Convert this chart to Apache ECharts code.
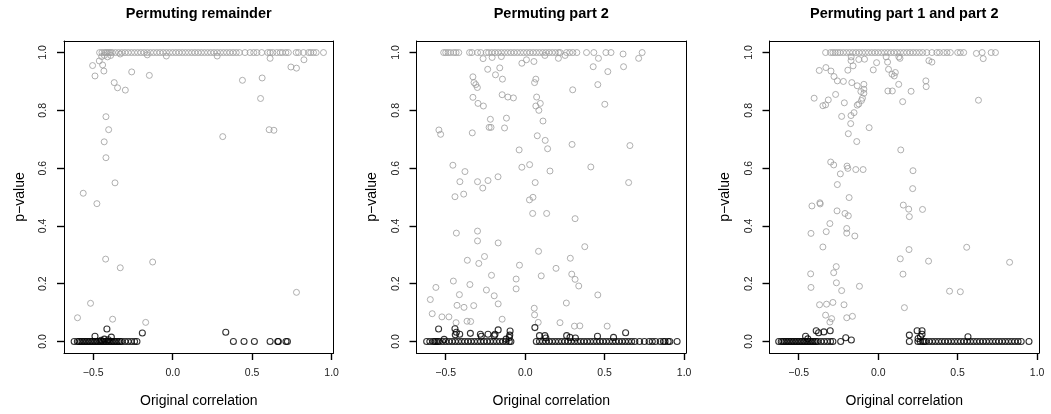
<!DOCTYPE html>
<html>
<head>
<meta charset="utf-8">
<script src="https://cdn.jsdelivr.net/npm/echarts@6/dist/echarts.min.js"></script>
<style>
  html, body { margin: 0; padding: 0; background: #fff; }
  #chart { width: 1051px; height: 414px; }
</style>
</head>
<body>
<div id="chart"></div>
<script>
// panel titles and tick values
var titles = ['Permuting remainder', 'Permuting part 2', 'Permuting part 1 and part 2'];
var xTicks = [-0.5, 0.0, 0.5, 1.0];
var yTicks = [0.0, 0.2, 0.4, 0.6, 0.8, 1.0];

// panel 1: permuting remainder
// grey points sitting on p = 1 (x only)
var p1GreyTop = [-0.46, -0.445, -0.43, -0.42, -0.41, -0.40, -0.39, -0.38, -0.36, -0.34, -0.32, -0.30, -0.28,
    -0.26, -0.24, -0.22, -0.20, -0.18, -0.16, -0.14, -0.12, -0.10, -0.08, -0.06, -0.04, -0.02, 0.00, 0.02,
    0.04, 0.06, 0.08, 0.10, 0.12, 0.14, 0.16, 0.18, 0.20, 0.22, 0.24, 0.26, 0.28, 0.30, 0.32, 0.34, 0.36,
    0.38, 0.40, 0.42, 0.455, 0.487, 0.51, 0.53, 0.56, 0.598, 0.613, 0.63, 0.655, 0.676, 0.691, 0.712, 0.728,
    0.777, 0.792, 0.823, 0.855, 0.869, 0.886, 0.903, 0.949];
var p1Grey = [[-0.462, 0.971], [-0.441, 0.957], [-0.504, 0.955], [-0.489, 0.919], [-0.433, 0.936],
    [-0.447, 0.986], [-0.43, 0.99], [-0.41, 0.985], [-0.39, 0.99], [-0.33, 0.995], [-0.258, 0.933],
    [-0.147, 0.921], [-0.368, 0.896], [-0.347, 0.878], [-0.298, 0.870], [-0.420, 0.778], [-0.403, 0.733],
    [-0.431, 0.691], [-0.420, 0.636], [-0.363, 0.549], [-0.563, 0.513], [-0.477, 0.477], [-0.422, 0.285],
    [-0.330, 0.255], [-0.126, 0.275], [-0.517, 0.132], [-0.599, 0.082], [-0.378, 0.077], [-0.170, 0.066],
    [0.315, 0.709], [0.439, 0.904], [0.563, 0.912], [0.553, 0.841], [0.607, 0.733], [0.637, 0.731],
    [0.613, 0.980], [0.744, 0.950], [0.779, 0.946], [0.826, 0.975], [0.779, 0.170], [-0.16, 0.992],
    [-0.04, 0.988], [0.28, 0.988]];
// black points sitting on p = 0 (x only)
var p1BlackZero = [-0.62, -0.60, -0.59, -0.58, -0.57, -0.56, -0.55, -0.54, -0.53, -0.52, -0.51, -0.50, -0.49,
    -0.48, -0.47, -0.46, -0.45, -0.44, -0.43, -0.42, -0.41, -0.40, -0.39, -0.38, -0.37, -0.36, -0.35, -0.34,
    -0.33, -0.32, -0.30, -0.28, -0.26, -0.24, -0.225, 0.382, 0.449, 0.514, 0.613, 0.661, 0.665, 0.713, 0.722];
var p1Black = [[-0.414, 0.043], [-0.489, 0.018], [-0.386, 0.015], [-0.191, 0.029], [0.334, 0.032],
    [-0.43, 0.008], [-0.405, 0.006], [-0.45, 0.004]];

// panel 2: permuting part 2
var p2GreyTop = [-0.513, -0.50, -0.485, -0.47, -0.45, -0.435, -0.418, -0.35, -0.335, -0.30, -0.28, -0.245,
    -0.23, -0.21, -0.19, -0.17, -0.15, -0.13, -0.11, -0.09, -0.07, -0.05, -0.03, -0.01, 0.01, 0.03, 0.05,
    0.07, 0.09, 0.11, 0.13, 0.15, 0.17, 0.19, 0.21, 0.22, 0.26, 0.28, 0.30, 0.325, 0.386, 0.432, 0.508,
    0.54, 0.736];
var p2Grey = [[-0.265, 0.979], [-0.208, 0.983], [-0.15, 0.986], [-0.021, 0.963], [0.008, 0.975],
    [0.055, 0.969], [0.124, 0.99], [0.209, 0.98], [0.251, 0.99], [0.461, 0.98], [0.619, 0.951],
    [0.428, 0.951], [0.714, 0.98], [0.616, 0.995], [0.520, 0.934], [0.457, 0.889],
    [-0.543, 0.732], [-0.532, 0.717], [-0.333, 0.722], [-0.329, 0.916], [-0.329, 0.845], [-0.322, 0.896],
    [-0.311, 0.889], [-0.301, 0.879], [-0.297, 0.824], [-0.263, 0.815], [-0.236, 0.942], [-0.219, 0.769],
    [-0.227, 0.741], [-0.215, 0.741], [-0.187, 0.923], [-0.160, 0.947], [-0.143, 0.908], [-0.145, 0.854],
    [-0.109, 0.846], [-0.074, 0.843], [-0.118, 0.773], [-0.130, 0.739], [-0.038, 0.663], [-0.021, 0.603],
    [0.028, 0.612], [0.067, 0.908], [0.059, 0.896], [0.072, 0.846], [0.067, 0.815], [0.086, 0.800],
    [0.095, 0.824], [0.112, 0.763], [0.076, 0.712], [0.126, 0.696], [0.141, 0.667], [0.156, 0.590],
    [0.299, 0.871], [0.295, 0.682], [0.501, 0.821], [0.659, 0.678], [0.413, 0.604], [-0.455, 0.610],
    [-0.379, 0.588], [-0.411, 0.553], [-0.30, 0.553], [-0.234, 0.557], [-0.171, 0.570], [0.063, 0.550],
    [0.651, 0.550], [-0.442, 0.501], [-0.387, 0.510], [-0.267, 0.531], [0.027, 0.490], [0.049, 0.499],
    [0.047, 0.443], [0.135, 0.443], [0.314, 0.425], [-0.433, 0.375], [-0.30, 0.382], [-0.30, 0.348],
    [-0.170, 0.341], [0.375, 0.328], [0.084, 0.312], [-0.364, 0.281], [-0.256, 0.294], [-0.292, 0.270],
    [-0.036, 0.264], [0.194, 0.253], [0.284, 0.288], [0.293, 0.233], [0.314, 0.215], [0.337, 0.192],
    [-0.452, 0.209], [-0.348, 0.197], [-0.212, 0.229], [-0.057, 0.216], [-0.057, 0.182], [-0.244, 0.178],
    [0.101, 0.227], [0.457, 0.161], [-0.562, 0.187], [-0.597, 0.145], [-0.585, 0.096], [-0.414, 0.162],
    [-0.195, 0.158], [-0.429, 0.125], [-0.385, 0.118], [-0.324, 0.124], [-0.170, 0.130], [-0.524, 0.085],
    [-0.480, 0.085], [-0.435, 0.065], [-0.366, 0.070], [-0.343, 0.069], [-0.145, 0.077], [0.057, 0.115],
    [0.059, 0.092], [0.082, 0.066], [0.259, 0.133], [0.219, 0.065], [0.310, 0.053], [0.344, 0.054],
    [0.516, 0.053]];
var p2BlackZero = [-0.62, -0.60, -0.58, -0.57, -0.56, -0.55, -0.54, -0.52, -0.50, -0.48, -0.46, -0.44, -0.42,
    -0.40, -0.38, -0.36, -0.34, -0.32, -0.30, -0.28, -0.26, -0.24, -0.22, -0.20, -0.18, -0.16, -0.14, -0.12,
    -0.10, -0.09, 0.07, 0.09, 0.11, 0.13, 0.15, 0.17, 0.19, 0.21, 0.23, 0.25, 0.27, 0.29, 0.31, 0.33, 0.35,
    0.37, 0.39, 0.41, 0.43, 0.45, 0.47, 0.49, 0.51, 0.53, 0.55, 0.57, 0.59, 0.61, 0.63, 0.65, 0.67, 0.69,
    0.72, 0.75, 0.78, 0.80, 0.82, 0.85, 0.87, 0.88, 0.90, 0.91, 0.956];
var p2Black = [[-0.545, 0.043], [-0.442, 0.044], [-0.433, 0.032], [-0.412, 0.025], [-0.44, 0.023],
    [-0.345, 0.028], [-0.282, 0.025], [-0.276, 0.018], [-0.234, 0.025], [-0.19, 0.025], [-0.17, 0.040],
    [-0.195, 0.02], [-0.095, 0.036], [-0.097, 0.022], [-0.10, 0.014], [-0.12, 0.008], [0.061, 0.048],
    [0.09, 0.02], [0.124, 0.02], [0.13, 0.012], [0.261, 0.02], [0.282, 0.014], [0.316, 0.012],
    [0.455, 0.018], [0.556, 0.014], [0.632, 0.03], [-0.51, 0.007]];

// panel 3: permuting part 1 and part 2
var p3GreyTop = [-0.331, -0.30, -0.285, -0.27, -0.255, -0.24, -0.22, -0.20, -0.18, -0.16, -0.14, -0.12,
    -0.10, -0.08, -0.06, -0.04, -0.02, 0.00, 0.02, 0.04, 0.06, 0.08, 0.10, 0.12, 0.14, 0.16, 0.18, 0.20,
    0.22, 0.24, 0.26, 0.28, 0.306, 0.338, 0.369, 0.386, 0.412, 0.433, 0.454, 0.50, 0.517, 0.538, 0.654,
    0.711, 0.738];
var p3Grey = [[0.618, 0.997], [-0.17, 0.985], [0.05, 0.985], [0.13, 0.985], [-0.371, 0.938], [-0.329, 0.948],
    [-0.297, 0.936], [-0.278, 0.917], [-0.257, 0.902], [-0.219, 0.900], [-0.191, 0.939], [-0.158, 0.954],
    [-0.171, 0.972], [-0.166, 0.896], [-0.132, 0.885], [-0.109, 0.865], [-0.09, 0.89], [-0.09, 0.873],
    [-0.09, 0.859], [-0.099, 0.842], [-0.105, 0.834], [-0.122, 0.822], [-0.132, 0.818], [-0.403, 0.842],
    [-0.348, 0.816], [-0.331, 0.819], [-0.314, 0.836], [-0.268, 0.855], [-0.213, 0.826], [-0.230, 0.779],
    [-0.152, 0.792], [-0.171, 0.782], [-0.173, 0.754], [-0.188, 0.719], [-0.135, 0.692], [-0.057, 0.740],
    [-0.122, 0.976], [-0.086, 0.977], [-0.01, 0.965], [-0.031, 0.94], [0.059, 0.967], [0.065, 0.942],
    [0.087, 0.925], [0.108, 0.931], [0.101, 0.919], [0.137, 0.98], [0.129, 0.89], [0.061, 0.867],
    [0.089, 0.867], [0.154, 0.830], [0.207, 0.866], [0.30, 0.902], [0.302, 0.882], [0.319, 0.972],
    [0.338, 0.967], [0.631, 0.835], [0.661, 0.979], [0.142, 0.663], [-0.299, 0.621], [-0.28, 0.611],
    [-0.196, 0.607], [-0.191, 0.599], [-0.141, 0.595], [-0.095, 0.595], [-0.238, 0.580], [0.219, 0.591],
    [-0.257, 0.543], [0.217, 0.529], [-0.183, 0.498], [-0.417, 0.469], [-0.367, 0.480], [-0.365, 0.476],
    [-0.259, 0.452], [-0.209, 0.443], [-0.188, 0.435], [-0.304, 0.408], [-0.198, 0.391], [-0.198, 0.375],
    [-0.327, 0.380], [-0.423, 0.374], [-0.147, 0.365], [-0.348, 0.327], [0.158, 0.472], [0.192, 0.458],
    [0.196, 0.432], [0.279, 0.457], [0.194, 0.318], [0.139, 0.286], [0.317, 0.278], [0.156, 0.233],
    [0.557, 0.326], [0.827, 0.274], [0.449, 0.174], [0.517, 0.172], [0.165, 0.117], [-0.264, 0.259],
    [-0.28, 0.238], [-0.425, 0.234], [-0.263, 0.203], [-0.423, 0.187], [-0.23, 0.176], [-0.118, 0.191],
    [-0.369, 0.127], [-0.325, 0.129], [-0.285, 0.135], [-0.215, 0.127], [-0.331, 0.091], [-0.293, 0.079],
    [-0.304, 0.067], [-0.198, 0.082], [-0.162, 0.087]];
var p3BlackZero = [-0.626, -0.61, -0.60, -0.59, -0.58, -0.57, -0.56, -0.55, -0.54, -0.53, -0.52, -0.51,
    -0.50, -0.49, -0.48, -0.47, -0.46, -0.45, -0.44, -0.43, -0.42, -0.41, -0.40, -0.39, -0.38, -0.36, -0.34,
    -0.32, -0.30, -0.285, -0.236, 0.196, 0.25, 0.265, 0.28, 0.29, 0.30, 0.32, 0.34, 0.36, 0.38, 0.40, 0.42,
    0.44, 0.46, 0.48, 0.50, 0.52, 0.54, 0.56, 0.58, 0.60, 0.62, 0.64, 0.66, 0.68, 0.70, 0.72, 0.74, 0.76,
    0.78, 0.80, 0.82, 0.84, 0.86, 0.88, 0.90, 0.949];
var p3Black = [[-0.457, 0.018], [-0.39, 0.037], [-0.375, 0.030], [-0.342, 0.033], [-0.302, 0.037],
    [-0.443, 0.009], [-0.204, 0.013], [-0.169, 0.005], [0.196, 0.022], [0.245, 0.037], [0.276, 0.037],
    [0.276, 0.025], [0.266, 0.016], [0.251, 0.010], [0.565, 0.016]];

var panels = [
    {greyTop: p1GreyTop, grey: p1Grey, blackZero: p1BlackZero, black: p1Black},
    {greyTop: p2GreyTop, grey: p2Grey, blackZero: p2BlackZero, black: p2Black},
    {greyTop: p3GreyTop, grey: p3Grey, blackZero: p3BlackZero, black: p3Black}
];

var font = "'Liberation Sans', Arial, Helvetica, sans-serif";
var gridLefts = [64, 416.5, 769.5];
var gridW = 269.5;
var xMin = -0.684, xMax = 1.012, yMin = -0.04, yMax = 1.04;
var boxLine = {show: true, onZero: false, lineStyle: {color: '#000', width: 1}};
var tickStyle = {color: '#000', width: 1.4};

function fmt(v) {
    return v.toFixed(1).replace('-', '\u2212');
}

var option = {
    animation: false,
    backgroundColor: '#fff',
    title: [],
    grid: [],
    xAxis: [],
    yAxis: [],
    series: []
};

panels.forEach(function (p, i) {
    option.title.push({
        text: titles[i],
        left: gridLefts[i] + gridW / 2,
        textAlign: 'center',
        top: 6,
        padding: 0,
        textStyle: {fontFamily: font, fontSize: 14.5, fontWeight: 'bold', color: '#000'}
    });
    option.grid.push({left: gridLefts[i], top: 41, width: gridW, height: 312, show: false});

    // bottom / left axes carry ticks and labels
    option.xAxis.push({
        type: 'value', gridIndex: i, min: xMin, max: xMax, position: 'bottom',
        name: 'Original correlation', nameLocation: 'middle', nameGap: 41,
        nameTextStyle: {fontFamily: font, fontSize: 14, color: '#000'},
        axisLine: boxLine,
        axisTick: {show: true, length: 7, lineStyle: tickStyle, customValues: xTicks},
        axisLabel: {fontFamily: font, fontSize: 10.5, color: '#222', margin: 15, customValues: xTicks,
            formatter: fmt},
        splitLine: {show: false}
    });
    option.yAxis.push({
        type: 'value', gridIndex: i, min: yMin, max: yMax, position: 'left',
        name: 'p\u2212value', nameLocation: 'middle', nameGap: 37, nameRotate: 90,
        nameTextStyle: {fontFamily: font, fontSize: 14, color: '#000'},
        axisLine: boxLine,
        axisTick: {show: true, length: 7, lineStyle: tickStyle, customValues: yTicks},
        axisLabel: {fontFamily: font, fontSize: 10.5, color: '#222', margin: 15, rotate: 90,
            customValues: yTicks, formatter: fmt},
        splitLine: {show: false}
    });
    var greyData = p.greyTop.map(function (x) { return [x, 1]; }).concat(p.grey);
    var blackData = p.blackZero.map(function (x) { return [x, 0]; }).concat(p.black);
    option.series.push({
        type: 'scatter', xAxisIndex: i, yAxisIndex: i, data: greyData,
        symbol: 'circle', symbolSize: 6,
        itemStyle: {color: 'rgba(0,0,0,0)', borderColor: '#9c9c9c', borderWidth: 1}
    });
    option.series.push({
        type: 'scatter', xAxisIndex: i, yAxisIndex: i, data: blackData,
        symbol: 'circle', symbolSize: 6,
        itemStyle: {color: 'rgba(0,0,0,0)', borderColor: '#000', borderWidth: 1.1}
    });
});

// top / right axes only close the box
panels.forEach(function (p, i) {
    option.xAxis.push({
        type: 'value', gridIndex: i, min: xMin, max: xMax, position: 'top',
        axisLine: boxLine, axisTick: {show: false}, axisLabel: {show: false}, splitLine: {show: false}
    });
    option.yAxis.push({
        type: 'value', gridIndex: i, min: yMin, max: yMax, position: 'right',
        axisLine: boxLine, axisTick: {show: false}, axisLabel: {show: false}, splitLine: {show: false}
    });
});

var chart = echarts.init(document.getElementById('chart'));
chart.setOption(option);
</script>
</body>
</html>
